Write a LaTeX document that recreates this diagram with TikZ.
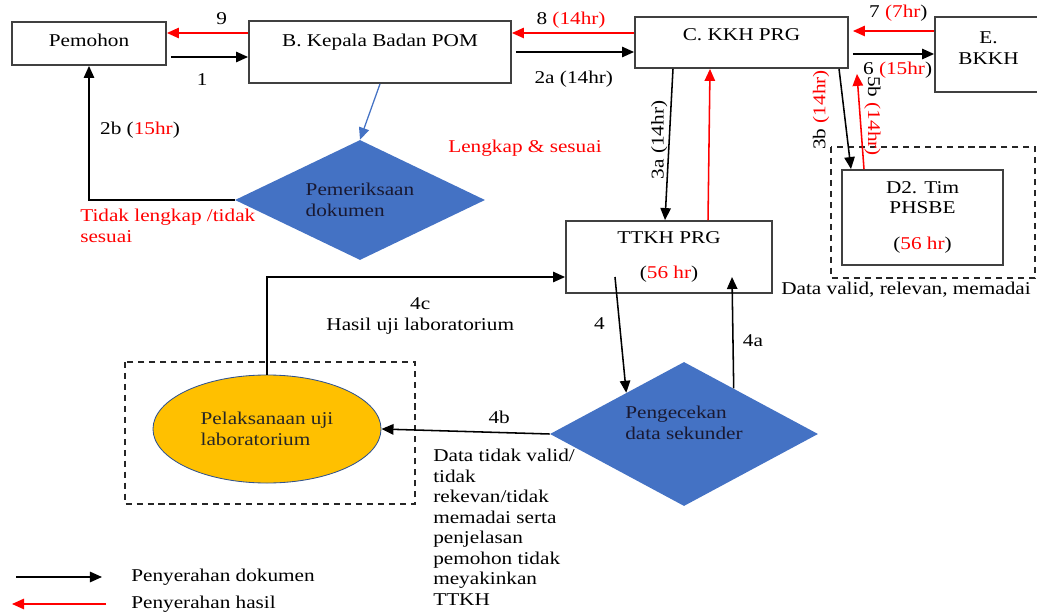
\documentclass[tikz,border=0pt]{standalone}
\usepackage{fontspec}
\setmainfont[FakeStretch=1.18]{Liberation Serif}
\usetikzlibrary{arrows.meta,positioning,calc,shapes.geometric}
\definecolor{kotak}{RGB}{64,64,64}
\definecolor{biru}{RGB}{68,114,196}
\definecolor{oranye}{RGB}{255,192,0}
\definecolor{tepi}{RGB}{47,82,143}
\definecolor{tulis}{RGB}{25,25,50}
\newcommand{\jam}[1]{\textcolor{red}{#1}}
\newcommand{\ukuran}{\fontsize{12.8}{14.6}\selectfont}

\begin{document}
\begin{tikzpicture}[
    x=0.025cm, y=-0.025cm,
    font=\ukuran,
    box/.style={draw=kotak,line width=1.3pt,align=center,inner sep=2pt},
    cek/.style={diamond,fill=biru,text=tulis,align=left,inner sep=2pt},
    uji/.style={ellipse,fill=oranye,draw=tepi,line width=0.6pt,text=black!85,align=left},
    garis/.style={draw=black!85,line width=1.3pt,dash pattern=on 4.3pt off 3.5pt},
    dok/.style={-{Triangle[length=3mm,width=2.6mm]},line width=1.1pt,black},
    hasil/.style={dok,red},
    lbl/.style={inner sep=1pt,text=black},
    ket/.style={inner sep=0pt,align=left}
  ]
    \useasboundingbox (0,0) rectangle (1037,616);

    % kotak proses
    \node[box,minimum width=3.85cm,minimum height=1.075cm,text depth=0.175cm] (pem) at (89,43.5) {Pemohon};
    \node[box,minimum width=6.55cm,minimum height=1.55cm,text depth=0.6cm] (b) at (380,52) {B. Kepala Badan POM};
    \node[box,minimum width=5.325cm,minimum height=1.275cm,text depth=0.375cm] (c) at (741.5,42.5) {C. KKH PRG};
    \node[box,minimum width=2.675cm,minimum height=1.875cm,text depth=0.32cm] (e) at (988.5,54.5) {E.\\BKKH};
    \node[box,minimum width=4.025cm,minimum height=2.375cm] (d2) at (922.5,217.5) {D2. Tim\\PHSBE\\[11pt](\jam{56 hr})};
    \node[box,minimum width=5.15cm,minimum height=1.8cm] (tt) at (669,257) {TTKH PRG\\[10pt](\jam{56 hr})};
    \node[cek,aspect=2.08,minimum width=6.25cm,minimum height=3cm] (pd) at (360,200) {Pemeriksaan\\dokumen};
    \node[cek,aspect=1.86,minimum width=6.7cm,minimum height=3.6cm,text depth=0.55cm] (pg) at (684,434) {Pengecekan\\data sekunder};
    \node[uji,minimum width=5.7cm,minimum height=2.7cm] (lab) at (267,429) {Pelaksanaan uji\\laboratorium};

    \draw[garis] (125,362) rectangle (415,504);
    \draw[garis] (831,147) rectangle (1035,278);

    % keterangan bebas
    \node[ket,text=red,anchor=north west] (tl) at (80,209) {Tidak lengkap /tidak\\sesuai};
    \node[ket,text=red] (ls) at (525,148) {Lengkap \& sesuai};
    \node[ket] (dv) at (906,290) {Data valid, relevan, memadai};
    \node[ket,anchor=north west] (dt) at (433,449) {Data tidak valid/\\tidak\\rekevan/tidak\\memadai serta\\penjelasan\\pemohon tidak\\meyakinkan\\TTKH};

    % alur atas
    \draw[hasil] ([yshift=0.475cm]b.west) coordinate (h9) -- node[lbl,pos=0.325,yshift=0.35cm] {9} (pem.east |- h9);
    \draw[dok] ([xshift=0.1cm,yshift=-0.3375cm]pem.east) coordinate (h1) -- node[lbl,pos=0.405,yshift=-0.575cm] {1} (b.west |- h1);
    \draw[hasil] ([yshift=0.2375cm]c.west) coordinate (h8) -- node[lbl,pos=0.516,yshift=0.325cm] {8 \jam{(14hr)}} (b.east |- h8);
    \draw[dok] ([xshift=0.1cm]b.east) coordinate (h2a) -- node[lbl,pos=0.49,yshift=-0.675cm] {2a (14hr)} (c.west |- h2a);
    \draw[hasil,shorten >=0.1cm] ([yshift=0.5875cm]e.west) coordinate (h7) -- node[lbl,pos=0.42,yshift=0.45cm] {7 \jam{(7hr})} (c.east |- h7);
    \draw[dok] ([xshift=0.1cm,yshift=-0.2875cm]c.east) coordinate (h6) -- node[lbl,pos=0.55,yshift=-0.4cm] {6 \jam{(15hr})} (e.west |- h6);

    % ke TTKH dan tim
    \draw[dok] ([xshift=-1.7125cm]c.south) -- node[lbl,pos=0.47,xshift=-0.25cm,rotate=90] {3a (14hr)} ([xshift=-0.1cm]tt.north);
    \draw[hasil] ([xshift=0.975cm]tt.north) -- ([xshift=-0.7875cm]c.south);
    \draw[dok] ([xshift=2.4375cm]c.south) -- node[lbl,pos=0.41,xshift=-0.575cm,rotate=90] {3b \jam{(14hr)}} ([xshift=-1.7875cm]d2.north);
    \draw[hasil] ([xshift=-1.4625cm]d2.north) -- node[lbl,pos=0.557,xshift=0.31cm,rotate=-90] {5b \jam{(14hr)}} ([xshift=0.2cm,yshift=-0.125cm]c.south east);

    % pemeriksaan dokumen
    \draw[dok,biru,line width=0.9pt] (b.south) -- (pd.north);
    \draw[dok] (pd.west) -| node[lbl,pos=0.76,xshift=1.275cm] {2b (\jam{15hr})} (pem.south);

    % pengecekan data
    \draw[dok] ([xshift=-1.35cm,yshift=-0.5cm]tt.center) -- node[lbl,pos=0.4,xshift=-0.5cm] {4} ($(pg.north)!0.43!(pg.west)$);
    \draw[dok] ($(pg.north)!0.37!(pg.east)$) -- node[lbl,pos=0.43,xshift=0.5cm] {4a} ([xshift=1.575cm,yshift=-0.5cm]tt.center);
    \draw[dok] (pg.west) -- node[lbl,pos=0.3,yshift=0.375cm] {4b} (lab.east);
    \draw[dok] (lab.north) |- node[lbl,align=center,pos=0.757,yshift=-0.975cm] {4c\\Hasil uji laboratorium} ([yshift=-0.5cm]tt.west);

    % legenda
    \coordinate (k1a) at (16,577);
    \coordinate (k1b) at (102,577);
    \coordinate (k2a) at (106,604);
    \coordinate (k2b) at (12,604);
    \draw[dok] (k1a) -- (k1b);
    \draw[hasil] (k2a) -- (k2b);
    \node[ket,anchor=west,right=0.725cm of k1b] (kd) {Penyerahan dokumen};
    \node[ket,anchor=west,right=0.625cm of k2a] (kh) {Penyerahan hasil};
\end{tikzpicture}
\end{document}
